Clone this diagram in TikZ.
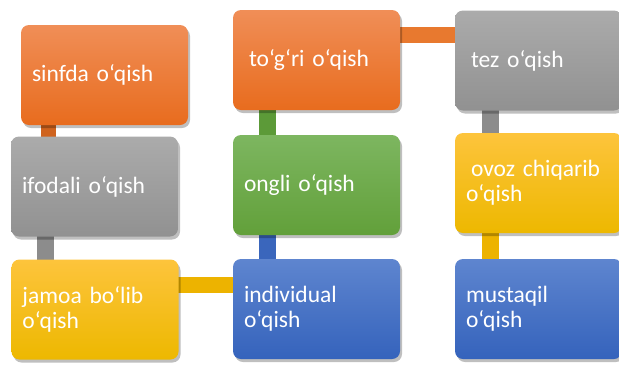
\documentclass[tikz,border=0pt]{standalone}
\usepackage{fontspec}
\setmainfont{Carlito}
\usetikzlibrary{shadows,backgrounds}
\definecolor{orT}{HTML}{F08E57}\definecolor{orB}{HTML}{E86C1E}
\definecolor{grT}{HTML}{ABABAB}\definecolor{grB}{HTML}{919191}
\definecolor{goT}{HTML}{FDC43C}\definecolor{goB}{HTML}{EDB800}
\definecolor{blT}{HTML}{5E85CF}\definecolor{blB}{HTML}{3563BC}
\definecolor{gnT}{HTML}{7DB660}\definecolor{gnB}{HTML}{62A03A}
\definecolor{orC}{HTML}{CF631E}
\definecolor{orD}{HTML}{E8792F}
\definecolor{grC}{HTML}{8C8C8C}
\definecolor{goC}{HTML}{EDB300}
\definecolor{blC}{HTML}{3A66BC}
\definecolor{gnC}{HTML}{5C9A38}
\begin{document}
\begin{tikzpicture}[x=1pt,y=-1pt,
  box/.style={rounded corners=8pt, minimum width=167pt, minimum height=100pt,
    text width=145pt, inner xsep=11pt, inner ysep=0pt, align=left, text=white,
    font=\fontsize{23.5}{25}\selectfont,
    drop shadow={shadow xshift=2pt, shadow yshift=-3pt, opacity=0.25, fill=black}},
  orbox/.style={box, top color=orT, bottom color=orB},
  grbox/.style={box, top color=grT, bottom color=grB},
  gobox/.style={box, top color=goT, bottom color=goB},
  blbox/.style={box, top color=blT, bottom color=blB},
  gnbox/.style={box, top color=gnT, bottom color=gnB},
  conn/.style={line width=16pt}]
\useasboundingbox (0,0) rectangle (619,365);
\begin{pgfonlayer}{background}
\fill[white] (0,0) rectangle (619,365);
\end{pgfonlayer}
\node[orbox] (sinfda) at (104.5,75) {sinfda o‘qish};
\node[grbox] (ifodali) at (94.5,186.5) {ifodali o‘qish};
\node[gobox] (jamoa) at (95,309.5) {jamoa bo‘lib\\o‘qish};
\node[orbox] (togri) at (316.5,60) {\hspace{5pt}to‘g‘ri o‘qish};
\node[gnbox] (ongli) at (316.5,185) {ongli o‘qish};
\node[blbox] (individual) at (316.5,309) {individual\\o‘qish};
\node[grbox] (tez) at (538.5,60.5) {\hspace{5pt}tez o‘qish};
\node[gobox] (ovoz) at (538.5,183) {\hspace{5pt}ovoz chiqarib\\o‘qish};
\node[blbox] (mustaqil) at (538.5,309) {mustaqil\\o‘qish};
\begin{pgfonlayer}{background}
\draw[conn, orC, line width=15pt] ([xshift=27.5pt]sinfda.west) -- ([xshift=27.5pt]sinfda.west |- ifodali.center);
\draw[conn, grC, line width=17pt] ([xshift=34.5pt]ifodali.west) -- ([xshift=34.5pt]ifodali.west |- jamoa.center);
\draw[conn, goC] ([yshift=-26pt]jamoa.north) -- ([yshift=-26pt]jamoa.north -| individual.center);
\draw[conn, gnC, line width=17pt] ([xshift=34.5pt]togri.west) -- ([xshift=34.5pt]togri.west |- ongli.center);
\draw[conn, blC, line width=17pt] ([xshift=34.5pt]ongli.west) -- ([xshift=34.5pt]ongli.west |- individual.center);
\draw[conn, orD] ([yshift=-25.5pt]togri.north) -- ([yshift=-25.5pt]togri.north -| tez.center);
\draw[conn, grC, line width=17pt] ([xshift=35.5pt]tez.west) -- ([xshift=35.5pt]tez.west |- ovoz.center);
\draw[conn, goC, line width=17pt] ([xshift=35.5pt]ovoz.west) -- ([xshift=35.5pt]ovoz.west |- mustaqil.center);
\end{pgfonlayer}
\end{tikzpicture}
\end{document}
